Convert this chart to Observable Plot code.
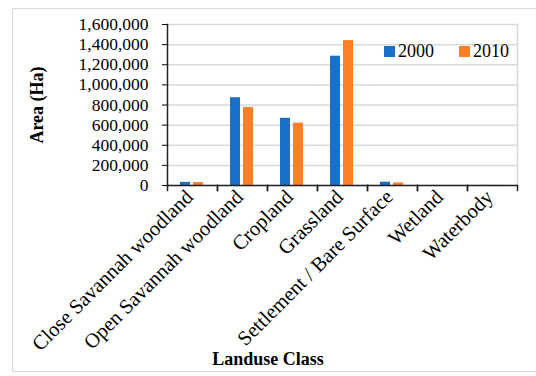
<!DOCTYPE html>
<html>
<head>
<meta charset="utf-8">
<script src="https://cdn.jsdelivr.net/npm/d3@7"></script>
<script src="https://cdn.jsdelivr.net/npm/@observablehq/plot@0.6"></script>
<style>
  html, body { margin: 0; padding: 0; background: #fff; }
  #wrap { position: relative; width: 536px; height: 376px; overflow: hidden; font-family: "Liberation Serif", serif; color: #000; }
  #border { position: absolute; left: 12px; top: 8px; width: 540px; height: 364px; border: 1px solid #d9d9d9; box-sizing: border-box; }
  #chart { position: absolute; left: 0; top: 0; }
  #legend { position: absolute; left: 384px; top: 41px; display: flex; align-items: center; font-size: 18px; }
  #legend .item { display: flex; align-items: center; margin-right: 25px; }
  #legend .sw { width: 11px; height: 11px; margin-right: 3px; }
  #xtitle { position: absolute; left: 0; width: 536px; top: 349px; text-align: center; font-weight: bold; font-size: 18px; }
</style>
</head>
<body>
<div id="wrap">
  <div id="border"></div>
  <div id="chart"></div>
  <div id="legend"></div>
  <div id="xtitle">Landuse Class</div>
</div>
<script>
// Land use classes and area (hectares) for each survey year
const classes = ["Close Savannah woodland", "Open Savannah woodland", "Cropland", "Grassland", "Settlement / Bare Surface", "Wetland", "Waterbody"];
const years = ["2000", "2010"];
const area2000 = [31000, 872000, 668000, 1285000, 33000, 800, 1200];
const area2010 = [29000, 775000, 620000, 1440000, 26000, 600, 900];
const yTicks = [0, 200000, 400000, 600000, 800000, 1000000, 1200000, 1400000, 1600000];
const colors = ["#1a70c9", "#ff7f27"];

const rows = classes.flatMap((c, i) => [
  {cls: c, year: years[0], area: area2000[i]},
  {cls: c, year: years[1], area: area2010[i]}
]);

const plot = Plot.plot({
  width: 536,
  height: 376,
  marginLeft: 166,
  marginRight: 18,
  marginTop: 24,
  marginBottom: 191,
  style: {fontFamily: "Liberation Serif, serif", fontSize: "17px", color: "#000", background: "transparent"},
  fx: {domain: classes, padding: 0},
  x: {domain: years, axis: null, paddingInner: 0.21, paddingOuter: 0.9},
  y: {domain: [0, 1600000]},
  color: {domain: years, range: colors},
  marks: [
    Plot.gridY(yTicks, {stroke: "#d9d9d9", strokeOpacity: 1, strokeWidth: 1.5}),
    Plot.frame({anchor: "right", facetAnchor: "right", stroke: "#d9d9d9", strokeWidth: 1.5}),
    Plot.barY(rows, {fx: "cls", x: "year", y: "area", fill: "year"}),
    Plot.axisY(yTicks, {
      tickFormat: d3.format(","), tickSize: 5, tickPadding: 14, fontSize: 17.5,
      label: "Area (Ha)", labelAnchor: "center", labelArrow: "none", labelOffset: 137
    }),
    Plot.axisFx({anchor: "bottom", tickRotate: -45, tickSize: 0, tickPadding: 8, dx: -3, fontSize: 20.5, label: null}),
    Plot.frame({anchor: "left", facetAnchor: "left", stroke: "#222", strokeWidth: 1.5}),
    Plot.frame({anchor: "left", stroke: "#222", strokeWidth: 1.5, insetTop: 161, insetBottom: -5}),
    Plot.frame({anchor: "right", stroke: "#222", strokeWidth: 1.5, insetTop: 161, insetBottom: -5}),
    Plot.ruleY([0], {stroke: "#222", strokeWidth: 1.5})
  ]
});
document.getElementById("chart").appendChild(plot);

// y-axis title in bold
d3.select(plot).selectAll("[aria-label='y-axis label'] text").attr("font-weight", "bold").attr("font-size", 18);

const legend = d3.select("#legend");
years.forEach((y, i) => {
  const item = legend.append("div").attr("class", "item");
  item.append("div").attr("class", "sw").style("background", plot.scale("color").apply(y));
  item.append("span").text(y);
});
</script>
</body>
</html>
